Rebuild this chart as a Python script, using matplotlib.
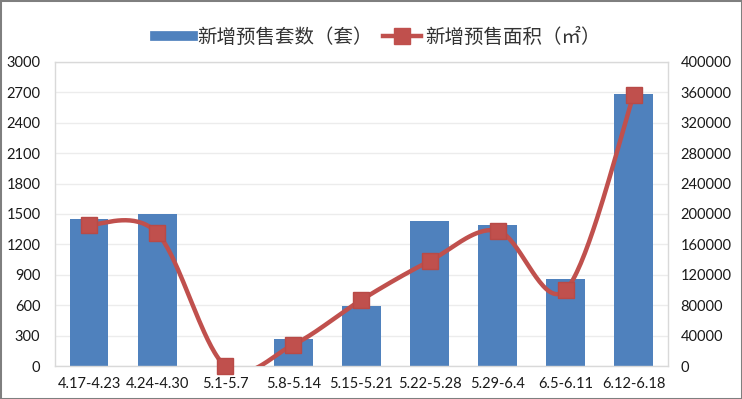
import numpy as np
import matplotlib
matplotlib.use("Agg")
import matplotlib.pyplot as plt
from matplotlib.lines import Line2D
from matplotlib.patches import Rectangle

plt.rcParams['font.family'] = ['Lato', 'Noto Sans CJK SC', 'DejaVu Sans']

categories = ["4.17-4.23", "4.24-4.30", "5.1-5.7", "5.8-5.14", "5.15-5.21",
              "5.22-5.28", "5.29-6.4", "6.5-6.11", "6.12-6.18"]
units = [1450, 1500, 0, 270, 590, 1430, 1390, 860, 2680]
area = [186000, 175000, 0, 28000, 87000, 138000, 178000, 100000, 357000]
left_ticks = list(range(0, 3001, 300))
right_ticks = list(range(0, 400001, 40000))
label_units = "新增预售套数（套）"
label_area = "新增预售面积（㎡）"

BAR = "#4F81BD"
LINE = "#C0504D"
TXT = "#1a1a1a"

fig = plt.figure(figsize=(7.42, 3.99), dpi=100)
fig.patches.append(Rectangle((0, 0), 1, 1, transform=fig.transFigure,
                             fill=False, edgecolor="#7f7f7f", linewidth=2.2))

ax = fig.add_axes([0.0741, 0.0827, 0.826, 0.762])
x = np.arange(len(categories))
ax.bar(x, units, width=0.57, color=BAR, zorder=2)
ax.set_xlim(-0.5, len(categories) - 0.5)
ax.set_ylim(0, 3000)
ax.set_yticks(left_ticks)
ax.set_xticks(x)
ax.set_xticklabels(categories)
ax.grid(axis='y', color="#ececec", linewidth=1, zorder=0)
for s in ax.spines.values():
    s.set_color("#d9d9d9")
    s.set_linewidth(1)
ax.tick_params(length=0, labelsize=10.5, colors=TXT)
ax.tick_params(axis='y', pad=10.5)
ax.tick_params(axis='x', pad=8)

ax2 = ax.twinx()
ax2.set_ylim(0, 400000)
ax2.set_yticks(right_ticks)
ax2.set_yticklabels([str(t) for t in right_ticks])
for s in ax2.spines.values():
    s.set_visible(False)
ax2.tick_params(length=0, labelsize=10.5, colors=TXT, pad=9)

# Catmull-Rom smoothing (Excel-like smoothed line)
P = np.column_stack([x.astype(float), np.array(area, float)])
pts = []
n = len(P)
for i in range(n - 1):
    p0 = P[i - 1] if i > 0 else P[i]
    p1 = P[i]
    p2 = P[i + 1]
    p3 = P[i + 2] if i + 2 < n else P[i + 1]
    c1 = p1 + (p2 - p0) / 6.0
    c2 = p2 - (p3 - p1) / 6.0
    t = np.linspace(0, 1, 40)[:, None]
    seg = ((1 - t) ** 3) * p1 + 3 * ((1 - t) ** 2) * t * c1 + 3 * (1 - t) * t ** 2 * c2 + t ** 3 * p2
    pts.append(seg if i == 0 else seg[1:])
curve = np.vstack(pts)
ax2.plot(curve[:, 0], curve[:, 1], color=LINE, linewidth=3.2, solid_capstyle='round', zorder=3)
ax2.plot(x, area, linestyle='none', marker='s', markersize=11.5, color=LINE,
         markeredgecolor="#b84a47", clip_on=False, zorder=4)

h1 = Line2D([0], [0], color=BAR, linewidth=7)
h2 = Line2D([0], [0], color=LINE, linewidth=3.2, marker='s', markersize=11)
leg = fig.legend([h1, h2], [label_units, label_area], loc='center',
                 bbox_to_anchor=(0.509, 0.907), ncol=2, frameon=False,
                 prop={'family': ['Noto Sans CJK SC', 'DejaVu Sans'], 'size': 14},
                 handlelength=2.0, handletextpad=0.2, columnspacing=0.5)
for t in leg.get_texts():
    t.set_color("#333333")

fig.savefig("out.png", dpi=100)
